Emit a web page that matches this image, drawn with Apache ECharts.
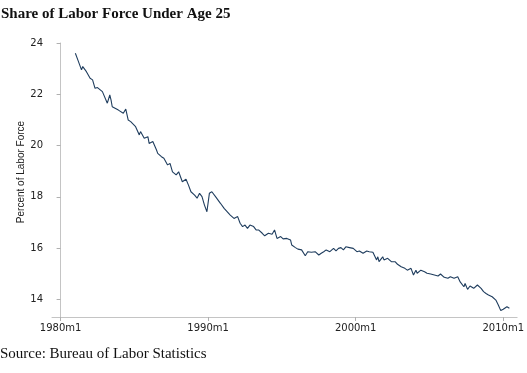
<!DOCTYPE html>
<html>
<head>
<meta charset="utf-8">
<script src="https://cdn.jsdelivr.net/npm/echarts@6/dist/echarts.min.js"></script>
<style>
html,body{margin:0;padding:0;background:#fff;}
#chart{width:527px;height:373px;}
</style>
</head>
<body>
<div id="chart"></div>
<script>
// Month index: 0 = 1980m1
var monthIndex = [12,14,17,18,21,24,26,28,30,34,38,40,41,42,47,51,53,55,57,61,64,65,68,71,72,75,
  78,79,82,84,87,89,91,94,96,99,102,104,106,109,111,113,115,117,119,121,123,126,130,133,134,138,141,144,146,
  148,150,152,154,157,159,161,164,166,169,172,174,176,179,181,184,187,188,191,193,196,199,201,204,207,210,212,214,
  216,219,222,224,226,228,230,232,235,238,241,243,246,249,251,254,257,258,259,262,263,266,269,272,274,277,280,282,285,287,
  289,290,293,296,298,301,304,307,309,312,315,317,320,323,325,328,329,331,333,336,339,340,342,344,346,348,351,354,356,358,360,363,365];
var laborShare = [23.61,23.35,22.96,23.09,22.89,22.63,22.57,22.24,22.27,22.11,21.66,21.98,21.79,21.52,21.39,21.27,21.43,21.00,20.94,20.74,20.42,20.55,20.29,20.35,20.09,20.16,
  19.83,19.70,19.57,19.51,19.25,19.31,18.98,18.86,18.98,18.59,18.69,18.46,18.20,18.07,17.95,18.14,18.01,17.68,17.42,18.14,18.20,18.01,17.75,17.55,17.62,17.29,17.16,17.23,16.97,
  16.84,16.90,16.77,16.90,16.84,16.71,16.71,16.58,16.48,16.58,16.54,16.71,16.38,16.45,16.36,16.38,16.32,16.12,16.02,15.96,15.93,15.70,15.86,15.84,15.86,15.73,15.80,15.86,
  15.93,15.86,15.99,15.89,15.99,16.02,15.93,16.05,16.02,15.99,15.86,15.89,15.80,15.89,15.86,15.84,15.54,15.66,15.47,15.66,15.54,15.60,15.47,15.47,15.37,15.27,15.21,15.14,15.21,14.95,
  15.14,15.02,15.14,15.08,15.02,14.99,14.95,14.91,14.99,14.86,14.82,14.88,14.82,14.88,14.68,14.49,14.62,14.39,14.52,14.43,14.56,14.60,14.43,14.30,14.23,14.17,14.10,13.97,13.78,13.56,13.61,13.71,13.65];
var xTickValues = [0,120,240,360];
var xTickLabels = ['1980m1','1990m1','2000m1','2010m1'];
var yTickValues = [14,16,18,20,22,24];
var yTickLabels = ['14','16','18','20','22','24'];

var seriesData = monthIndex.map(function(m,i){return [m, laborShare[i]];});

var chart = echarts.init(document.getElementById('chart'), null, {renderer:'canvas'});
chart.setOption({
  animation:false,
  backgroundColor:'#fff',
  grid:{left:52, right:7, top:43, bottom:56, containLabel:false},
  xAxis:{
    type:'value', min:-7, max:371.3,
    splitLine:{show:false},
    axisLine:{show:true, lineStyle:{color:'#c4c4c4', width:1}},
    axisTick:{show:true, length:4, lineStyle:{color:'#b0b0b0'}, customValues:xTickValues},
    axisLabel:{show:true, customValues:xTickValues, margin:6, color:'#222', fontFamily:'DejaVu Sans', fontSize:10,
      formatter:function(v){var i=xTickValues.indexOf(v);return i>=0?xTickLabels[i]:'';}}
  },
  yAxis:{
    type:'value', min:13.31, max:24.01,
    splitLine:{show:false},
    axisLine:{show:true, lineStyle:{color:'#c4c4c4', width:1}},
    axisTick:{show:true, length:4, lineStyle:{color:'#b0b0b0'}, customValues:yTickValues},
    axisLabel:{show:true, customValues:yTickValues, margin:9, color:'#222', fontFamily:'DejaVu Sans', fontSize:10,
      formatter:function(v){var i=yTickValues.indexOf(v);return i>=0?yTickLabels[i]:'';}}
  },
  graphic:[
    {type:'text', left:1, top:7, style:{text:'Share of Labor Force Under Age 25', font:'bold 15px "Liberation Serif"', fill:'#111'}},
    {type:'text', left:0, top:347, style:{text:'Source: Bureau of Labor Statistics', font:'15px "Liberation Serif"', fill:'#111'}},
    {type:'text', x:21, y:172, rotation:Math.PI/2, style:{text:'Percent of Labor Force', font:'10px "Liberation Sans"', fill:'#222', textAlign:'center', textVerticalAlign:'middle'}}
  ],
  series:[{
    type:'line', data:seriesData, showSymbol:false, symbol:'none',
    lineStyle:{color:'#1f3d5e', width:1.1}
  }]
});
</script>
</body>
</html>
